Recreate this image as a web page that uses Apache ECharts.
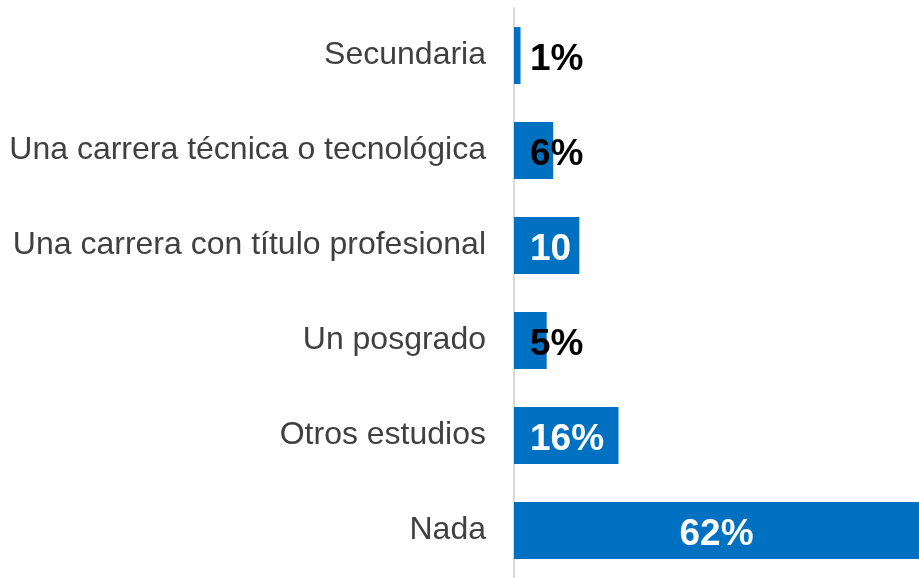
<!DOCTYPE html>
<html lang="es">
<head>
<meta charset="UTF-8">
<title>Estudios</title>
<script src="https://cdn.jsdelivr.net/npm/echarts@6/dist/echarts.min.js"></script>
<style>
  html, body { margin: 0; padding: 0; background: #fff; }
  #main { width: 919px; height: 578px; }
</style>
</head>
<body>
<div id="main"></div>
<script type="text/javascript">
  // datos
  var categorias = ['Secundaria', 'Una carrera técnica o tecnológica', 'Una carrera con título profesional', 'Un posgrado', 'Otros estudios', 'Nada'];
  var valores = [1, 6, 10, 5, 16, 62];
  var etiquetas = ['1%', '6%', '10%', '5%', '16%', '62%'];

  var myChart = echarts.init(document.getElementById('main'));

  var datos = valores.map(function (v, i) {
    var item = { value: v, label: { formatter: etiquetas[i] } };
    if (v >= 30) {
      item.label.position = 'inside';
      item.label.color = '#fff';
    } else if (v >= 10) {
      item.label.color = '#fff';
      if (v < 16) {
        // texto recortado por la barra
        item.label.width = 60;
        item.label.overflow = 'truncate';
        item.label.ellipsis = '';
      }
    }
    return item;
  });

  var option = {
    animation: false,
    grid: { left: 514, right: 0, top: 8, bottom: -3, containLabel: false },
    xAxis: { type: 'value', min: 0, max: 62, show: false },
    yAxis: {
      type: 'category',
      inverse: true,
      data: categorias,
      axisLine: { show: true, lineStyle: { color: '#d9d9d9', width: 2 } },
      axisTick: { show: false },
      axisLabel: { fontSize: 32, color: '#404040', margin: 28, fontFamily: 'Liberation Sans', padding: [4, 0, 0, 0] }
    },
    series: [{
      type: 'bar',
      data: datos,
      barWidth: 57,
      itemStyle: { color: '#0070C0' },
      label: {
        show: true,
        position: 'insideLeft',
        distance: 16,
        offset: [0, 4],
        color: '#000',
        fontSize: 37,
        fontWeight: 'bold',
        fontFamily: 'Liberation Sans'
      }
    }]
  };

  myChart.setOption(option);
</script>
</body>
</html>
